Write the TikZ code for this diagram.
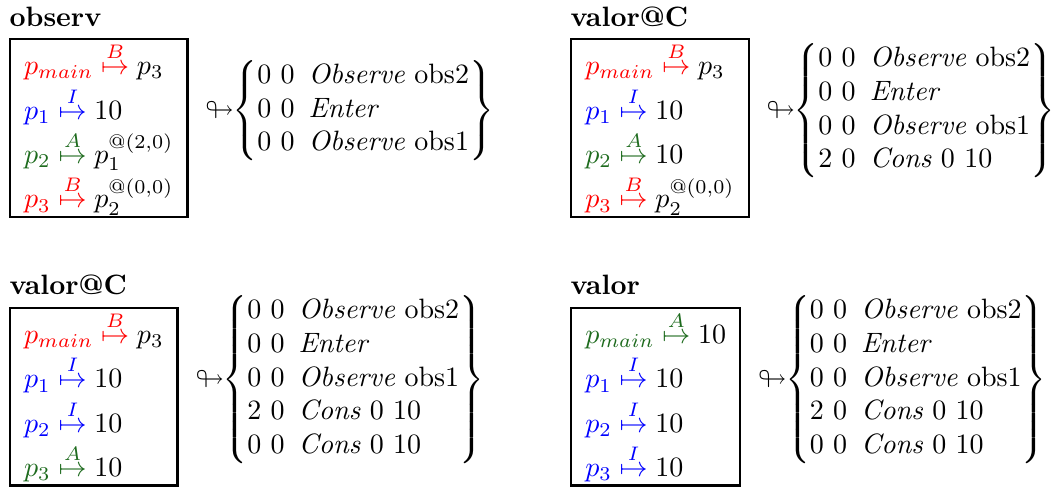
\documentclass[tikz,border=0pt]{standalone}
\usepackage{amsmath}
\usepackage{amssymb}
\usepackage{xcolor}
\usetikzlibrary{positioning}
\definecolor{OwnerRed}{HTML}{FF0000}
\definecolor{OwnerBlue}{HTML}{0000FF}
\definecolor{OwnerGreen}{HTML}{1E6B1E}

\newcommand{\heapbind}[4]{{\color{#1}#2}\mathrel{\color{#1}\stackrel{#3}{\mapsto}}#4}
\newcommand{\tracerow}[3]{\text{#1\enspace\textit{#2} #3}}

\tikzset{
  heapbox/.style={draw, line width=0.8pt, inner xsep=0pt, inner ysep=1.2pt, text depth=2pt, anchor=north west},
  heaptitle/.style={font=\bfseries, inner sep=0pt, anchor=base west},
  tracestack/.style={inner sep=0pt, anchor=west}
}

\begin{document}
\begin{tikzpicture}
    \useasboundingbox (0,0) rectangle (376.4pt,-173.9pt);

    % observ
    \node[heapbox] (obsBox) at (3.2pt,-13.6pt) {$\begin{array}[b]{l}
        \heapbind{OwnerRed}{p_{main}}{B}{p_3}\\[0.8pt]
        \heapbind{OwnerBlue}{p_1}{I}{10}\\[0.8pt]
        \heapbind{OwnerGreen}{p_2}{A}{p_1^{@(2,0)}}\\[0.8pt]
        \heapbind{OwnerRed}{p_3}{B}{p_2^{@(0,0)}}
      \end{array}$};
    \node[heaptitle] (obsTitle) at ([yshift=4.3pt]obsBox.north west) {observ};
    \node[tracestack, right=6pt of obsBox, yshift=6.2pt] (obsTrace) {$\looparrowright\!\!\left\{\begin{array}{@{}l@{}}
        \tracerow{0 0}{Observe}{obs2}\\
        \tracerow{0 0}{Enter}{}\\
        \tracerow{0 0}{Observe}{obs1}
      \end{array}\right\}$};

    % valor@C, first step
    \node[heapbox] (valcBox) at (203.6pt,-13.6pt) {$\begin{array}[b]{l}
        \heapbind{OwnerRed}{p_{main}}{B}{p_3}\\[0.8pt]
        \heapbind{OwnerBlue}{p_1}{I}{10}\\[0.8pt]
        \heapbind{OwnerGreen}{p_2}{A}{10}\\[0.8pt]
        \heapbind{OwnerRed}{p_3}{B}{p_2^{@(0,0)}}
      \end{array}$};
    \node[heaptitle] (valcTitle) at ([yshift=4.3pt]valcBox.north west) {valor@C};
    \node[tracestack, right=6pt of valcBox, yshift=6.2pt] (valcTrace) {$\looparrowright\!\!\left\{\begin{array}{@{}l@{}}
        \tracerow{0 0}{Observe}{obs2}\\
        \tracerow{0 0}{Enter}{}\\
        \tracerow{0 0}{Observe}{obs1}\\
        \tracerow{2 0}{Cons}{0 10}
      \end{array}\right\}$};

    % valor@C, second step
    \node[heapbox] (valdBox) at (3.2pt,-109.6pt) {$\begin{array}[b]{l}
        \heapbind{OwnerRed}{p_{main}}{B}{p_3}\\[0.8pt]
        \heapbind{OwnerBlue}{p_1}{I}{10}\\[0.8pt]
        \heapbind{OwnerBlue}{p_2}{I}{10}\\[0.8pt]
        \heapbind{OwnerGreen}{p_3}{A}{10}
      \end{array}$};
    \node[heaptitle] (valdTitle) at ([yshift=4.3pt]valdBox.north west) {valor@C};
    \node[tracestack, right=6pt of valdBox, yshift=6.2pt] (valdTrace) {$\looparrowright\!\!\left\{\begin{array}{@{}l@{}}
        \tracerow{0 0}{Observe}{obs2}\\
        \tracerow{0 0}{Enter}{}\\
        \tracerow{0 0}{Observe}{obs1}\\
        \tracerow{2 0}{Cons}{0 10}\\
        \tracerow{0 0}{Cons}{0 10}
      \end{array}\right\}$};

    % valor
    \node[heapbox] (valBox) at (203.6pt,-109.6pt) {$\begin{array}[b]{l}
        \heapbind{OwnerGreen}{p_{main}}{A}{10}\\[0.8pt]
        \heapbind{OwnerBlue}{p_1}{I}{10}\\[0.8pt]
        \heapbind{OwnerBlue}{p_2}{I}{10}\\[0.8pt]
        \heapbind{OwnerBlue}{p_3}{I}{10}
      \end{array}$};
    \node[heaptitle] (valTitle) at ([yshift=4.3pt]valBox.north west) {valor};
    \node[tracestack, right=6pt of valBox, yshift=6.2pt] (valTrace) {$\looparrowright\!\!\left\{\begin{array}{@{}l@{}}
        \tracerow{0 0}{Observe}{obs2}\\
        \tracerow{0 0}{Enter}{}\\
        \tracerow{0 0}{Observe}{obs1}\\
        \tracerow{2 0}{Cons}{0 10}\\
        \tracerow{0 0}{Cons}{0 10}
      \end{array}\right\}$};
  \end{tikzpicture}
\end{document}
